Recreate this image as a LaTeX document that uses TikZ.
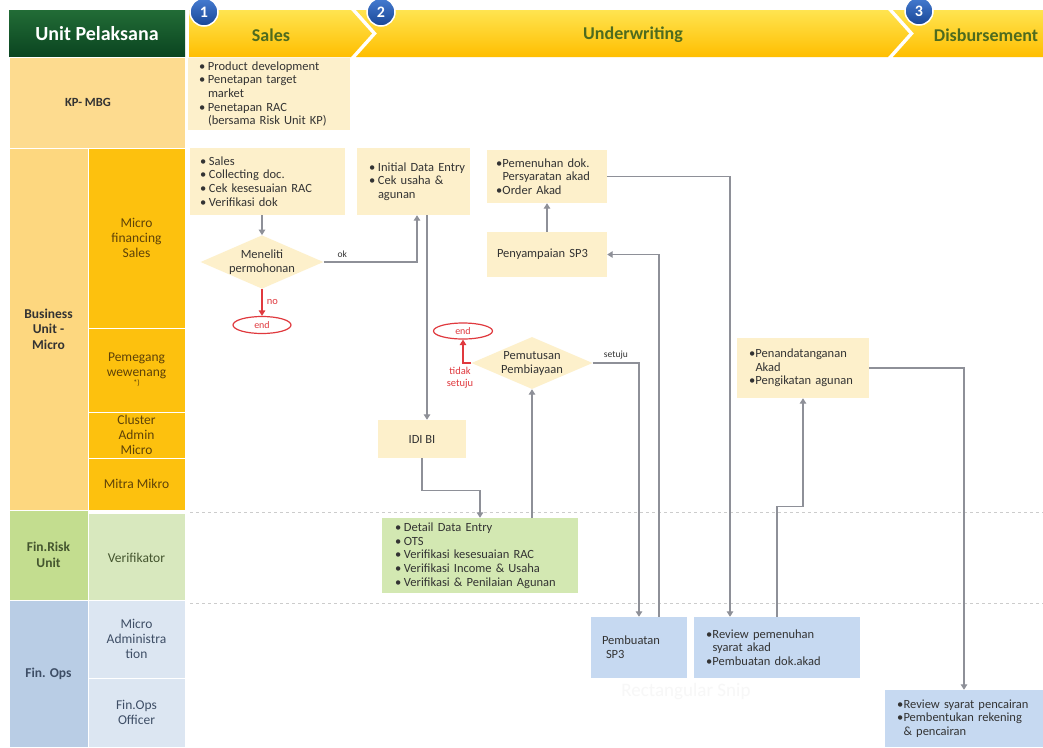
\documentclass[tikz,border=0pt]{standalone}
\usepackage{fontspec}
\setmainfont{Carlito}
\usetikzlibrary{arrows.meta,shapes.geometric,calc}
\definecolor{cream}{HTML}{FDF0CB}
\definecolor{greenbx}{HTML}{D3E8B2}
\definecolor{bluebx}{HTML}{C6D9F1}
\definecolor{kpc}{HTML}{FDDB8F}
\definecolor{buout}{HTML}{FDD77F}
\definecolor{buin}{HTML}{FDC10E}
\definecolor{frout}{HTML}{C3DD8F}
\definecolor{frin}{HTML}{D8E8BE}
\definecolor{foout}{HTML}{B9CDE5}
\definecolor{foin}{HTML}{DCE6F2}
\definecolor{lgray}{HTML}{8E9098}
\definecolor{redc}{HTML}{E0393E}
\definecolor{hdrtxt}{HTML}{4E6B1E}
\definecolor{boxtxt}{HTML}{333333}
\definecolor{browntxt}{HTML}{5E4208}
\definecolor{bluetxt}{HTML}{3E4E66}
\definecolor{greentxt}{HTML}{44552E}
\newcommand\myBulA{\makebox[9pt][l]{\textbullet}}
\newcommand\myBulB{\makebox[6.5pt][l]{\textbullet}}
\newcommand\myLineA[1]{\mbox{\myBulA #1}}
\newcommand\myContA[1]{\mbox{\hspace*{9pt}#1}}
\newcommand\myLineB[1]{\mbox{\myBulB #1}}
\newcommand\myContB[1]{\mbox{\hspace*{6.5pt}#1}}
\begin{document}
\begin{tikzpicture}[x=1pt,y=-1pt,
  cellsty/.style={rectangle, draw=white, line width=1pt, inner sep=0pt, align=center,
    font=\fontsize{13.5}{14.8}\selectfont},
  boldcell/.style={font=\bfseries\fontsize{13.5}{15.5}\selectfont},
  boxsty/.style={rectangle, inner ysep=0pt, align=left, text=boxtxt,
    font=\fontsize{12.5}{13.7}\selectfont},
  arr/.style={draw=lgray, line width=1.3pt, -{Triangle[width=6.5pt,length=5.5pt]}},
  redarr/.style={draw=redc, line width=1.3pt, -{Triangle[width=6.5pt,length=5.5pt]}},
  lbl/.style={font=\fontsize{9.5}{10}\selectfont, text=boxtxt},
  redlbl/.style={font=\fontsize{10.5}{12}\selectfont, text=redc},
  dia/.style={diamond, fill=cream, inner sep=0pt, shape aspect=2.3, align=center,
    text=boxtxt, font=\fontsize{12.5}{14}\selectfont},
  endsty/.style={ellipse, draw=redc, line width=1.2pt, fill=white, inner sep=0pt,
    text=redc, font=\fontsize{10}{10}\selectfont},
  numc/.style={circle, minimum size=28pt, inner sep=0pt, draw=white, line width=1.5pt,
    top color={rgb,255:red,70;green,125;blue,210}, bottom color={rgb,255:red,25;green,70;blue,150},
    text=white, font=\bfseries\fontsize{16}{16}\selectfont},
  hdrlbl/.style={text=hdrtxt, font=\bfseries\fontsize{18}{18}\selectfont},
  dashsty/.style={draw=gray!40, line width=0.9pt, dash pattern=on 3pt off 3pt}
]
\useasboundingbox (0,0) rectangle (1043,747);
\fill[white] (0,0) rectangle (1043,747);

% ---- header ----
\node[rectangle, minimum width=176pt, minimum height=47pt, inner sep=0pt,
  top color={rgb,255:red,34;green,108;blue,54}, bottom color={rgb,255:red,10;green,68;blue,32},
  text=white, font=\bfseries\fontsize{20}{20}\selectfont] (hdr) at (97,33.5) {Unit Pelaksana};
\shade[top color={rgb,255:red,255;green,228;blue,80}, bottom color={rgb,255:red,255;green,190;blue,0}]
  (189,10) -- (351,10) -- (372,33.5) -- (351,57) -- (189,57) -- cycle;
\shade[top color={rgb,255:red,255;green,228;blue,80}, bottom color={rgb,255:red,255;green,190;blue,0}]
  (356,10) -- (888,10) -- (909,33.5) -- (888,57) -- (356,57) -- (377,33.5) -- cycle;
\shade[top color={rgb,255:red,255;green,228;blue,80}, bottom color={rgb,255:red,255;green,190;blue,0}]
  (893,10) -- (1043,10) -- (1043,57) -- (893,57) -- (914,33.5) -- cycle;
\node[hdrlbl] (hs) at (271,35) {Sales};
\node[hdrlbl] (hu) at (633,35) {Underwriting};
\node[hdrlbl] (hd) at (986,35) {Disbursement};
\node[numc] (n1) at (204,12) {1};
\node[numc] (n2) at (381,12) {2};
\node[numc] (n3) at (919,11) {3};

% ---- left column ----
\node[cellsty, fill=kpc, minimum width=176pt, minimum height=91pt, text=boxtxt,
  font=\bfseries\fontsize{12.5}{14}\selectfont] (kp) at (97,102.5) {\hspace*{-18pt}KP- MBG};
\node[cellsty, boldcell, fill=buout, minimum width=79pt, minimum height=362pt, text=boxtxt] (bu) at (48.5,329) {Business\\Unit -\\Micro};
\node[cellsty, fill=buin, minimum width=97pt, minimum height=180pt, text=browntxt] (mfs) at (136.5,238) {Micro\\financing\\Sales};
\node[cellsty, fill=buin, minimum width=97pt, minimum height=84pt, text=browntxt] (pw) at (136.5,370) {Pemegang\\wewenang\\[-6pt]{\fontsize{8}{8}\selectfont *)}};
\node[cellsty, fill=buin, minimum width=97pt, minimum height=46pt, text=browntxt] (cam) at (136.5,435) {Cluster\\Admin\\Micro};
\node[cellsty, fill=buin, minimum width=97pt, minimum height=52pt, text=browntxt] (mm) at (136.5,484) {Mitra Mikro};
\node[cellsty, boldcell, fill=frout, minimum width=79pt, minimum height=90pt, text=greentxt] (fr) at (48.5,555) {Fin.Risk\\Unit};
\node[cellsty, fill=frin, minimum width=97pt, minimum height=90pt, text=greentxt] (ver) at (136.5,558) {Verifikator};
\node[cellsty, boldcell, fill=foout, minimum width=79pt, minimum height=147pt, text=bluetxt] (fo) at (48.5,673.5) {Fin. Ops};
\node[cellsty, fill=foin, minimum width=97pt, minimum height=78pt, text=bluetxt] (ma) at (136.5,639) {Micro\\Administra\\tion};
\node[cellsty, fill=foin, minimum width=97pt, minimum height=69pt, text=bluetxt] (foo) at (136.5,712.5) {Fin.Ops\\Officer};

% ---- lane separators ----
\draw[dashsty] (190,512) -- (1043,512);
\draw[dashsty] (190,603) -- (1043,603);

% ---- faint watermark ----
\node[text=black!3, font=\fontsize{19}{19}\selectfont] (snip) at (686,692) {Rectangular Snip};

% ---- process boxes ----
\node[boxsty, fill=cream, minimum width=162pt, minimum height=72pt, inner xsep=11pt, text width=140pt] (kpbox) at (269,94)
  {\myLineA{Product development}\\\myLineA{Penetapan target}\\\myContA{market}\\\myLineA{Penetapan RAC}\\\myContA{(bersama Risk Unit KP)}};
\node[boxsty, fill=cream, minimum width=155pt, minimum height=67pt, inner xsep=10pt, text width=135pt] (salesbox) at (267.5,181.5)
  {\myLineA{Sales}\\\myLineA{Collecting doc.}\\\myLineA{Cek kesesuaian RAC}\\\myLineA{Verifikasi dok}};
\node[boxsty, fill=cream, minimum width=113pt, minimum height=67pt, inner xsep=12pt, text width=89pt] (initbox) at (413.5,181.5)
  {\myLineA{Initial Data Entry}\\\myLineA{Cek usaha \&}\\\myContA{agunan}};
\node[boxsty, fill=cream, minimum width=120pt, minimum height=53pt, inner xsep=9pt, text width=102pt] (pemenuhan) at (547,176.5)
  {\myLineB{Pemenuhan dok.}\\\myContB{Persyaratan akad}\\\myLineB{Order Akad}};
\node[boxsty, fill=cream, minimum width=120pt, minimum height=45pt, inner xsep=10pt, text width=100pt] (penyampaian) at (547,254.5)
  {Penyampaian SP3};
\node[dia, minimum width=120pt, minimum height=52pt] (meneliti) at (262,262) {Meneliti\\permohonan};
\node[endsty, minimum width=58pt, minimum height=17pt] (end1) at (262,325) {end};
\node[dia, minimum width=121pt, minimum height=52pt] (pemutusan) at (532,363) {Pemutusan\\Pembiayaan};
\node[endsty, minimum width=59pt, minimum height=16pt] (end2) at (463,331) {end};
\node[redlbl, align=center] (ts) at (460,378) {tidak\\setuju};
\node[boxsty, fill=cream, minimum width=88pt, minimum height=38pt, align=center] (idibi) at (422,439) {IDI BI};
\node[boxsty, fill=greenbx, minimum width=196pt, minimum height=75pt, inner xsep=13pt, text width=170pt] (greenbox) at (480,555.5)
  {\myLineA{Detail Data Entry}\\\myLineA{OTS}\\\myLineA{Verifikasi kesesuaian RAC}\\\myLineA{Verifikasi Income \& Usaha}\\\myLineA{Verifikasi \& Penilaian Agunan}};
\node[boxsty, fill=cream, minimum width=132pt, minimum height=60pt, inner xsep=12pt, text width=108pt] (penanda) at (803,368)
  {\myLineB{Penandatanganan}\\\myContB{Akad}\\\myLineB{Pengikatan agunan}};
\node[boxsty, fill=bluebx, minimum width=96pt, minimum height=61pt, inner xsep=11pt, text width=74pt] (pembuatan) at (639,647.5)
  {Pembuatan\\\hspace*{4pt}SP3};
\node[boxsty, fill=bluebx, minimum width=166pt, minimum height=61pt, inner xsep=12pt, text width=142pt] (review) at (777,647.5)
  {\myLineB{Review pemenuhan}\\\myContB{syarat akad}\\\myLineB{Pembuatan dok.akad}};
\node[boxsty, fill=bluebx, minimum width=158pt, minimum height=57pt, inner xsep=12pt, text width=134pt] (disb) at (964,718.5)
  {\myLineB{Review syarat pencairan}\\\myLineB{Pembentukan rekening}\\\myContB{\& pencairan}};

% ---- connectors ----
\draw[arr] (meneliti.north |- salesbox.south) -- (meneliti.north);
\draw[arr] (meneliti.east) -| ($(initbox.south)+(3.5,0)$) node[pos=0.1, above, lbl] {ok};
\draw[redarr] (meneliti.south) -- (end1.north) node[midway, right, redlbl, xshift=1pt] {no};
\coordinate (a1) at ($(initbox.south)+(13.5,0)$);
\draw[arr] (a1) -- (a1 |- idibi.north);
\draw[arr] (idibi.south) -- ++(0,32) -| (greenbox.north);
\draw[arr] (greenbox.north -| pemutusan.south) -- (pemutusan.south);
\draw[redarr] (pemutusan.west) -| (end2.south);
\draw[arr] (pemutusan.east) -| (pembuatan.north) node[pos=0.25, above, lbl] {setuju};
\draw[arr] ($(pembuatan.north)+(20,0)$) |- (penyampaian.east);
\draw[arr] (penyampaian.north) -- (pemenuhan.south);
\coordinate (r1) at ($(review.north)+(-47,0)$);
\draw[arr] (pemenuhan.east) -| (r1);
\draw[arr] (review.north) -- ++(0,-110) -| (penanda.south);
\draw[arr] (penanda.east) -| (disb.north);
\end{tikzpicture}
\end{document}
